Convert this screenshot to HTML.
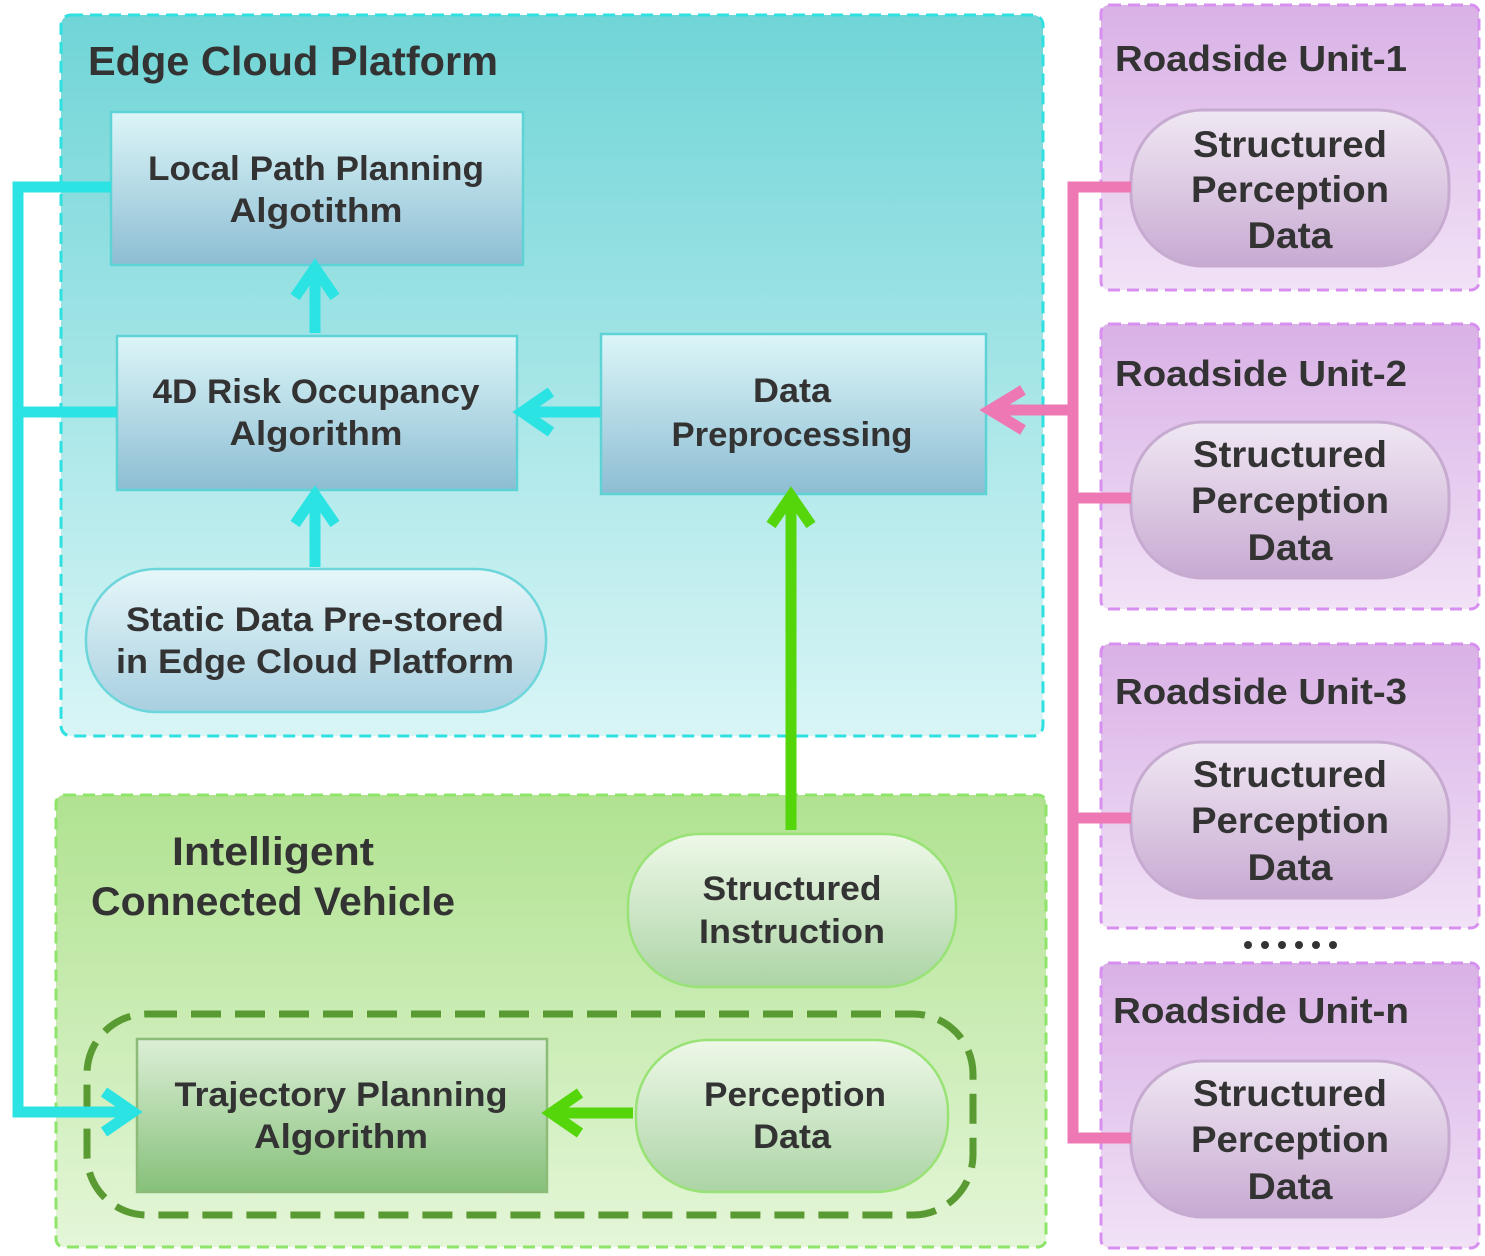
<!DOCTYPE html>
<html><head><meta charset="utf-8"><style>
html,body{margin:0;padding:0;background:#fff;}
svg{display:block;}
text{font-family:"Liberation Sans",sans-serif;font-weight:bold;fill:#333;text-anchor:middle;}
</style></head><body>
<svg width="1485" height="1256" viewBox="0 0 1485 1256" xmlns="http://www.w3.org/2000/svg">
<defs>
<linearGradient id="gEdge" x1="0" y1="0" x2="0" y2="1"><stop offset="0" stop-color="#70d5d7"/><stop offset="1" stop-color="#d9f5f6"/></linearGradient>
<linearGradient id="gBox" x1="0" y1="0" x2="0" y2="1"><stop offset="0" stop-color="#dcf6f8"/><stop offset="1" stop-color="#8dbdd3"/></linearGradient>
<linearGradient id="gStatic" x1="0" y1="0" x2="0" y2="1"><stop offset="0" stop-color="#e6f7f9"/><stop offset="1" stop-color="#a8cfe0"/></linearGradient>
<linearGradient id="gGreen" x1="0" y1="0" x2="0" y2="1"><stop offset="0" stop-color="#b0e290"/><stop offset="1" stop-color="#e4f6d8"/></linearGradient>
<linearGradient id="gGPill" x1="0" y1="0" x2="0" y2="1"><stop offset="0" stop-color="#eef8e8"/><stop offset="1" stop-color="#acd4a6"/></linearGradient>
<linearGradient id="gTraj" x1="0" y1="0" x2="0" y2="1"><stop offset="0" stop-color="#dcefd6"/><stop offset="1" stop-color="#86c07a"/></linearGradient>
<linearGradient id="gRSU" x1="0" y1="0" x2="0" y2="1"><stop offset="0" stop-color="#d9b1e6"/><stop offset="1" stop-color="#f1e2f6"/></linearGradient>
<linearGradient id="gPPill" x1="0" y1="0" x2="0" y2="1"><stop offset="0" stop-color="#f0e8f3"/><stop offset="1" stop-color="#c8aad2"/></linearGradient>
</defs>

<!-- Edge cloud -->
<rect x="61" y="15" width="982" height="721" rx="10" fill="url(#gEdge)" stroke="#2fe0e0" stroke-width="3" stroke-dasharray="12 7"/>
<text x="293" y="75" font-size="41" textLength="410" lengthAdjust="spacingAndGlyphs">Edge Cloud Platform</text>

<rect x="111" y="112" width="412" height="153" fill="url(#gBox)" stroke="#5ed3d6" stroke-width="2.5"/>
<text x="316" y="180" font-size="34" textLength="336" lengthAdjust="spacingAndGlyphs">Local Path Planning</text>
<text x="316" y="222" font-size="34" textLength="173" lengthAdjust="spacingAndGlyphs">Algotithm</text>

<rect x="117" y="336" width="400" height="154" fill="url(#gBox)" stroke="#5ed3d6" stroke-width="2.5"/>
<text x="316" y="403" font-size="34" textLength="327" lengthAdjust="spacingAndGlyphs">4D Risk Occupancy</text>
<text x="316" y="445" font-size="34" textLength="173" lengthAdjust="spacingAndGlyphs">Algorithm</text>

<rect x="601" y="334" width="385" height="160" fill="url(#gBox)" stroke="#5ed3d6" stroke-width="2.5"/>
<text x="792" y="402" font-size="34" textLength="78" lengthAdjust="spacingAndGlyphs">Data</text>
<text x="792" y="446" font-size="34" textLength="241" lengthAdjust="spacingAndGlyphs">Preprocessing</text>

<rect x="86" y="569" width="460" height="143" rx="70" fill="url(#gStatic)" stroke="#6cd6da" stroke-width="2.5"/>
<text x="315" y="631" font-size="34" textLength="378" lengthAdjust="spacingAndGlyphs">Static Data Pre-stored</text>
<text x="315" y="673" font-size="34" textLength="398" lengthAdjust="spacingAndGlyphs">in Edge Cloud Platform</text>

<!-- Green region -->
<rect x="56" y="795" width="990" height="452" rx="8" fill="url(#gGreen)" stroke="#8ee56a" stroke-width="3" stroke-dasharray="12 7"/>
<text x="273" y="865" font-size="40" textLength="202" lengthAdjust="spacingAndGlyphs">Intelligent</text>
<text x="273" y="915" font-size="40" textLength="364" lengthAdjust="spacingAndGlyphs">Connected Vehicle</text>

<rect x="628" y="834" width="328" height="153" rx="72" fill="url(#gGPill)" stroke="#98e276" stroke-width="2.5"/>
<text x="792" y="900" font-size="34" textLength="179" lengthAdjust="spacingAndGlyphs">Structured</text>
<text x="792" y="943" font-size="34" textLength="186" lengthAdjust="spacingAndGlyphs">Instruction</text>

<rect x="87" y="1014" width="886" height="201" rx="60" fill="none" stroke="#5a9a32" stroke-width="7" stroke-dasharray="30 14"/>

<rect x="137" y="1039" width="410" height="153" fill="url(#gTraj)" stroke="#8cbc78" stroke-width="2.5"/>
<text x="341" y="1106" font-size="34" textLength="333" lengthAdjust="spacingAndGlyphs">Trajectory Planning</text>
<text x="341" y="1148" font-size="34" textLength="174" lengthAdjust="spacingAndGlyphs">Algorithm</text>

<rect x="636" y="1040" width="312" height="152" rx="72" fill="url(#gGPill)" stroke="#98e276" stroke-width="2.5"/>
<text x="795" y="1106" font-size="34" textLength="182" lengthAdjust="spacingAndGlyphs">Perception</text>
<text x="792" y="1148" font-size="34" textLength="78" lengthAdjust="spacingAndGlyphs">Data</text>

<!-- cyan arrows -->
<g stroke="#2ce3e3" stroke-width="11" fill="none" stroke-linejoin="miter">
<line x1="315" y1="333" x2="315" y2="272"/>
<polyline points="295,297 315,268 335,297"/>
<line x1="315" y1="567" x2="315" y2="498"/>
<polyline points="295,524 315,495 335,524"/>
<line x1="600" y1="412" x2="524" y2="412"/>
<polyline points="551,392 522,412 551,432"/>
<polyline points="111,187 18,187 18,1112 130,1112"/>
<line x1="18" y1="412" x2="117" y2="412"/>
<polyline points="104,1092 133,1112 104,1132"/>
</g>

<g stroke="#55d60a" stroke-width="11" fill="none">
<line x1="791" y1="830" x2="791" y2="499"/>
<polyline points="771,525 791,496 811,525"/>
<line x1="633" y1="1113" x2="555" y2="1113"/>
<polyline points="580,1093 551,1113 580,1133"/>
</g>

<!-- Roadside units -->
<g transform="translate(0,5)">
<rect x="1101" y="0" width="378" height="285" rx="8" fill="url(#gRSU)" stroke="#d890f0" stroke-width="3" stroke-dasharray="12 7"/>
<text x="1261" y="66" font-size="36" textLength="292" lengthAdjust="spacingAndGlyphs">Roadside Unit-1</text>
<rect x="1131" y="105" width="318" height="156" rx="72" fill="url(#gPPill)" stroke="#c7aad0" stroke-width="3"/>
<text x="1290" y="152" font-size="37" textLength="194" lengthAdjust="spacingAndGlyphs">Structured</text>
<text x="1290" y="197" font-size="37" textLength="198" lengthAdjust="spacingAndGlyphs">Perception</text>
<text x="1290" y="243" font-size="37" textLength="85" lengthAdjust="spacingAndGlyphs">Data</text>
</g>
<g transform="translate(0,324)">
<rect x="1101" y="0" width="378" height="285" rx="8" fill="url(#gRSU)" stroke="#d890f0" stroke-width="3" stroke-dasharray="12 7"/>
<text x="1261" y="62" font-size="36" textLength="292" lengthAdjust="spacingAndGlyphs">Roadside Unit-2</text>
<rect x="1131" y="98" width="318" height="156" rx="72" fill="url(#gPPill)" stroke="#c7aad0" stroke-width="3"/>
<text x="1290" y="143" font-size="37" textLength="194" lengthAdjust="spacingAndGlyphs">Structured</text>
<text x="1290" y="189" font-size="37" textLength="198" lengthAdjust="spacingAndGlyphs">Perception</text>
<text x="1290" y="236" font-size="37" textLength="85" lengthAdjust="spacingAndGlyphs">Data</text>
</g>
<g transform="translate(0,644)">
<rect x="1101" y="0" width="378" height="284" rx="8" fill="url(#gRSU)" stroke="#d890f0" stroke-width="3" stroke-dasharray="12 7"/>
<text x="1261" y="60" font-size="36" textLength="292" lengthAdjust="spacingAndGlyphs">Roadside Unit-3</text>
<rect x="1131" y="98" width="318" height="156" rx="72" fill="url(#gPPill)" stroke="#c7aad0" stroke-width="3"/>
<text x="1290" y="143" font-size="37" textLength="194" lengthAdjust="spacingAndGlyphs">Structured</text>
<text x="1290" y="189" font-size="37" textLength="198" lengthAdjust="spacingAndGlyphs">Perception</text>
<text x="1290" y="236" font-size="37" textLength="85" lengthAdjust="spacingAndGlyphs">Data</text>
</g>
<g transform="translate(0,963)">
<rect x="1101" y="0" width="378" height="285" rx="8" fill="url(#gRSU)" stroke="#d890f0" stroke-width="3" stroke-dasharray="12 7"/>
<text x="1261" y="60" font-size="36" textLength="296" lengthAdjust="spacingAndGlyphs">Roadside Unit-n</text>
<rect x="1131" y="98" width="318" height="156" rx="72" fill="url(#gPPill)" stroke="#c7aad0" stroke-width="3"/>
<text x="1290" y="143" font-size="37" textLength="194" lengthAdjust="spacingAndGlyphs">Structured</text>
<text x="1290" y="189" font-size="37" textLength="198" lengthAdjust="spacingAndGlyphs">Perception</text>
<text x="1290" y="236" font-size="37" textLength="85" lengthAdjust="spacingAndGlyphs">Data</text>
</g>
<g fill="#333">
<circle cx="1248" cy="945" r="4"/><circle cx="1265" cy="945" r="4"/><circle cx="1282" cy="945" r="4"/>
<circle cx="1299" cy="945" r="4"/><circle cx="1316" cy="945" r="4"/><circle cx="1333" cy="945" r="4"/>
</g>

<!-- pink bus -->
<g stroke="#ee78b4" stroke-width="11" fill="none">
<polyline points="1131,187 1073,187 1073,1138 1131,1138"/>
<line x1="1073" y1="498" x2="1131" y2="498"/>
<line x1="1073" y1="818" x2="1131" y2="818"/>
<line x1="1073" y1="410" x2="994" y2="410"/>
<polyline points="1023,390 990,410 1023,430"/>
</g>
</svg>
</body></html>
